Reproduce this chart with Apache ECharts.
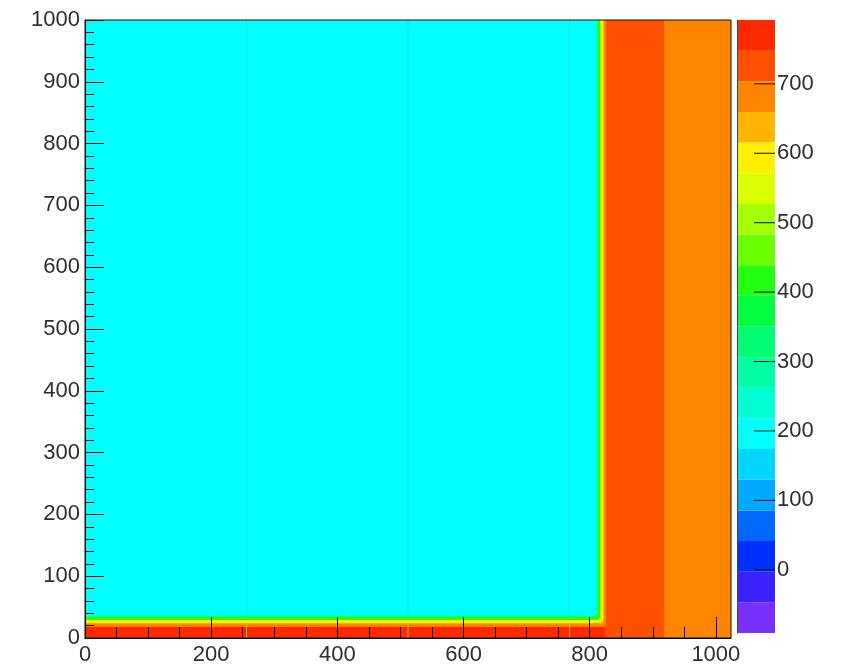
<!DOCTYPE html>
<html>
<head>
<meta charset="utf-8">
<script src="https://cdn.jsdelivr.net/npm/echarts@6/dist/echarts.min.js"></script>
<style>
html,body{margin:0;padding:0;background:#ffffff;}
#chart{width:845px;height:668px;}
</style>
</head>
<body>
<div id="chart"></div>
<script>
// ---------------- data ----------------
const xRange = [0, 1024];
const yRange = [0, 1000];
const xTickValues = [0, 200, 400, 600, 800, 1000];
const xMinorTickValues = [0, 50, 100, 150, 200, 250, 300, 350, 400, 450, 500, 550, 600, 650, 700, 750, 800, 850, 900, 950, 1000];
const yTickValues = [0, 100, 200, 300, 400, 500, 600, 700, 800, 900, 1000];
const yMinorTickValues = [0, 20, 40, 60, 80, 100, 120, 140, 160, 180, 200, 220, 240, 260, 280, 300, 320, 340, 360, 380, 400, 420, 440, 460, 480, 500, 520, 540, 560, 580, 600, 620, 640, 660, 680, 700, 720, 740, 760, 780, 800, 820, 840, 860, 880, 900, 920, 940, 960, 980, 1000];
const zTickValues = [0, 100, 200, 300, 400, 500, 600, 700];
const zRange = [-91, 792];
const nLevels = 20;
// palette, lowest level first
const palette = ['#7830ff', '#3c22ff', '#0030ff', '#0068ff', '#00a8ff', '#00d4ff', '#00ffff', '#00ffd2', '#00ffa2', '#00ff70',
                 '#00ff40', '#22ff12', '#6cff00', '#a4ff00', '#dcff00', '#fff000', '#ffb400', '#ff8400', '#ff5000', '#ff2800'];

// cells: [x0, x1, y0, y1, value], painted in order (later ones on top)
const detectorLayers = [
  [0, 1024, 0, 1000, 725],   // saturated region (red-orange)
  [918, 1024, 0, 1000, 680], // far right (orange)
  [0, 824, 0, 18, 770],      // bottom strip (red)
  [0, 826, 18, 1000, 680],   // edge ring: orange
  [0, 822, 24, 1000, 590],   // edge ring: yellow
  [0, 817, 29, 1000, 415],   // edge ring: green
  [0, 812, 35, 1000, 190]    // flat field (cyan)
];
const cornerCells = [
  [809, 812, 35, 39, 415],
  [815, 817, 29, 32, 590],
  [820, 822, 24, 27, 680],
  [824, 826, 18, 21, 725]
];
const deadColumnCells = [
  [255.4, 256.6, 35, 1000, 150],
  [511.4, 512.6, 35, 1000, 150],
  [767.4, 768.6, 35, 1000, 150],
  [255.2, 256.8, 0, 24, 635],
  [511.2, 512.8, 0, 24, 635],
  [767.2, 768.8, 0, 24, 635]
];

// ---------------- build ----------------
const levelWidth = (zRange[1] - zRange[0]) / nLevels;
const pieces = palette.map((c, i) => ({
  gte: zRange[0] + i * levelWidth,
  lt: zRange[0] + (i + 1) * levelWidth,
  color: c
}));
const cells = detectorLayers.concat(cornerCells, deadColumnCells);
const barCells = palette.map((c, i) => [0, 1, zRange[0] + i * levelWidth, zRange[0] + (i + 1) * levelWidth, zRange[0] + (i + 0.5) * levelWidth]);
const barTicks = zTickValues.map(v => [1, v]);

function renderCell(params, api) {
  const p0 = api.coord([api.value(0), api.value(3)]);
  const p1 = api.coord([api.value(1), api.value(2)]);
  return {
    type: 'rect',
    shape: { x: p0[0], y: p0[1], width: p1[0] - p0[0], height: p1[1] - p0[1] },
    style: { fill: api.visual('color'), stroke: null }
  };
}
function renderBarTick(params, api) {
  const p = api.coord([api.value(0), api.value(1)]);
  return {
    type: 'line',
    shape: { x1: p[0] - 21, y1: p[1], x2: p[0], y2: p[1] },
    style: { stroke: '#111', lineWidth: 1 }
  };
}

const fmt = v => String(v);
const labelFont = { fontFamily: 'Liberation Sans, Arial, sans-serif', fontSize: 22, color: '#2e2e2e', formatter: fmt };

const chart = echarts.init(document.getElementById('chart'), null, { renderer: 'canvas' });
chart.setOption({
  animation: false,
  backgroundColor: '#ffffff',
  grid: [
    { left: 85, top: 20, right: 114, bottom: 30, show: true, borderColor: '#111', borderWidth: 1, backgroundColor: 'transparent', outerBoundsMode: 'none', containLabel: false, z: 5 },
    { left: 737, top: 20, width: 38, bottom: 35, show: false, outerBoundsMode: 'none', containLabel: false }
  ],
  visualMap: {
    type: 'piecewise', show: false, dimension: 4, seriesIndex: [0, 1], pieces: pieces
  },
  xAxis: [
    { type: 'value', gridIndex: 0, min: xRange[0], max: xRange[1], position: 'bottom', z: 10,
      axisLine: { show: true, onZero: false, lineStyle: { color: '#000', width: 1 } },
      axisTick: { show: true, inside: true, length: 21, customValues: xTickValues, lineStyle: { color: '#000', width: 1 } },
      axisLabel: Object.assign({ show: true, margin: 6, customValues: xTickValues }, labelFont),
      splitLine: { show: false } },
    { type: 'value', gridIndex: 0, min: xRange[0], max: xRange[1], position: 'bottom', z: 10,
      axisLine: { show: false },
      axisTick: { show: true, inside: true, length: 11, customValues: xMinorTickValues, lineStyle: { color: '#000', width: 1 } },
      axisLabel: { show: false },
      splitLine: { show: false } },
    { type: 'value', gridIndex: 1, min: 0, max: 1, show: false }
  ],
  yAxis: [
    { type: 'value', gridIndex: 0, min: yRange[0], max: yRange[1], position: 'left', z: 10,
      axisLine: { show: true, onZero: false, lineStyle: { color: '#000', width: 1 } },
      axisTick: { show: true, inside: true, length: 19, customValues: yTickValues, lineStyle: { color: '#000', width: 1 } },
      axisLabel: Object.assign({ show: true, margin: 5, customValues: yTickValues }, labelFont),
      splitLine: { show: false } },
    { type: 'value', gridIndex: 0, min: yRange[0], max: yRange[1], position: 'left', z: 10,
      axisLine: { show: false },
      axisTick: { show: true, inside: true, length: 9, customValues: yMinorTickValues, lineStyle: { color: '#000', width: 1 } },
      axisLabel: { show: false },
      splitLine: { show: false } },
    { type: 'value', gridIndex: 1, min: zRange[0], max: zRange[1], position: 'right', z: 10,
      axisLine: { show: true, lineStyle: { color: '#444', width: 1 } },
      axisTick: { show: false },
      axisLabel: Object.assign({ show: true, margin: 2, customValues: zTickValues }, labelFont),
      splitLine: { show: false } }
  ],
  series: [
    { type: 'custom', name: 'hist', xAxisIndex: 0, yAxisIndex: 0, silent: true, clip: true,
      encode: { x: [0, 1], y: [2, 3] }, renderItem: renderCell, data: cells, z: 2 },
    { type: 'custom', name: 'palette', xAxisIndex: 2, yAxisIndex: 2, silent: true, clip: true,
      encode: { x: [0, 1], y: [2, 3] }, renderItem: renderCell, data: barCells, z: 2 },
    { type: 'custom', name: 'paletteTicks', xAxisIndex: 2, yAxisIndex: 2, silent: true, clip: false,
      encode: { x: 0, y: 1 }, renderItem: renderBarTick, data: barTicks, z: 6 }
  ]
});
</script>
</body>
</html>
